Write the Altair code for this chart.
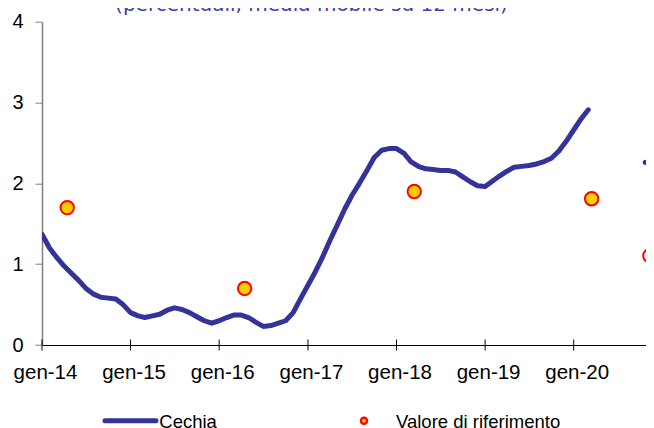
import altair as alt
import pandas as pd

# ---- data ----
title_text = "(percentuali, media mobile su 12 mesi)"
legend_labels = ["Cechia", "Valore di riferimento"]
tick_years = [2014, 2015, 2016, 2017, 2018, 2019, 2020]

cechia_start = "2014-01-01"
cechia_values = [
    1.37, 1.20, 1.09, 0.98, 0.89, 0.80, 0.70, 0.63, 0.59, 0.58, 0.57, 0.50,
    0.40, 0.36, 0.34, 0.36, 0.38, 0.43, 0.46, 0.44, 0.40, 0.35, 0.30, 0.27,
    0.30, 0.34, 0.37, 0.37, 0.34, 0.28, 0.23, 0.24, 0.27, 0.30, 0.40, 0.57,
    0.74, 0.91, 1.08, 1.29, 1.48, 1.68, 1.85, 2.00, 2.16, 2.32, 2.41, 2.43,
    2.43, 2.37, 2.27, 2.21, 2.18, 2.17, 2.16, 2.16, 2.14, 2.08, 2.02, 1.97,
    1.96, 2.03, 2.09, 2.15, 2.20, 2.21, 2.22, 2.24, 2.27, 2.31, 2.40, 2.52,
    2.66, 2.80, 2.91,
]
# start of the next (cropped) segment at the right edge
next_dates = ["2020-10-22", "2020-12-01"]
next_values = [2.26, 2.22]

ref_dates = ["2014-04-15", "2016-04-15", "2018-03-15", "2020-03-15"]
ref_values = [1.70, 0.70, 1.90, 1.81]
ref_edge_dates = ["2020-11-10"]
ref_edge_values = [1.105]

# ---- tables ----
line_dates = pd.date_range(cechia_start, periods=len(cechia_values), freq="MS").strftime("%Y-%m-%d")
df_line = pd.DataFrame({"date": line_dates, "value": cechia_values})
df_next = pd.DataFrame({"date": next_dates, "value": next_values})
df_ref = pd.DataFrame({"date": ref_dates, "value": ref_values})
df_edge = pd.DataFrame({"date": ref_edge_dates, "value": ref_edge_values})
df_ticks = pd.DataFrame({"date": [f"{y}-01-01" for y in tick_years]})

PLOT_W = 604
PLOT_H = 323.3
FONT = "Liberation Sans"
BLUE = "#333399"

xscale = alt.Scale(
    type="utc",
    domain=[alt.DateTime(year=2014, month=1, date=1, utc=True),
            alt.DateTime(year=2020, month=10, date=25, utc=True)],
)
yscale = alt.Scale(domain=[0, 4], nice=False)

xaxis = alt.Axis(
    values=[alt.DateTime(year=y, month=1, date=1, utc=True) for y in tick_years],
    labelExpr="'gen-' + utcFormat(datum.value, '%y')",
    ticks=False, labelPadding=17, labelFontSize=20.5, labelFont=FONT,
    labelColor="black", domainColor="black", domainWidth=1, grid=False,
    title=None, labelOffset=3, labelFlush=False, labelOverlap=False,
)
yaxis = alt.Axis(
    values=[0, 1, 2, 3, 4], format="d", tickSize=7, labelPadding=12,
    labelFontSize=20, labelFont=FONT, labelColor="black",
    domainColor="#808080", domainWidth=1.5, tickColor="#808080",
    grid=False, title=None,
)

X = alt.X("date:T", scale=xscale, axis=xaxis)
Y = alt.Y("value:Q", scale=yscale, axis=yaxis)

line = alt.Chart(df_line).mark_line(
    color=BLUE, strokeWidth=5, strokeJoin="round", strokeCap="round", clip=True
).encode(x=X, y=Y)

line_next = alt.Chart(df_next).mark_line(
    color=BLUE, strokeWidth=5, strokeJoin="round", strokeCap="round", clip=True
).encode(x=alt.X("date:T", scale=xscale), y=alt.Y("value:Q", scale=yscale))

xticks = alt.Chart(df_ticks).mark_rule(color="black", strokeWidth=1).encode(
    x=alt.X("date:T", scale=xscale),
    y=alt.value(PLOT_H - 5.5), y2=alt.value(PLOT_H + 5.5),
)

refs = alt.Chart(df_ref).mark_point(
    shape="circle", filled=True, size=180, fill="#FFCC00", stroke="#FF0000",
    strokeWidth=2, opacity=1, clip=True,
).encode(x=alt.X("date:T", scale=xscale), y=alt.Y("value:Q", scale=yscale))

refs_edge = alt.Chart(df_edge).mark_point(
    shape="circle", filled=True, size=180, fill="white", stroke="#FF0000",
    strokeWidth=2, opacity=1, clip=True,
).encode(x=alt.X("date:T", scale=xscale), y=alt.Y("value:Q", scale=yscale))

title = alt.Chart(pd.DataFrame({"t": [title_text]})).mark_text(
    font="DejaVu Sans", fontSize=20, color="#4040A0", align="center",
    baseline="alphabetic",
).encode(text="t:N", x=alt.value(269.5), y=alt.value(-11.2))

leg_df1 = pd.DataFrame({"t": [legend_labels[0]]})
leg_df2 = pd.DataFrame({"t": [legend_labels[1]]})

leg_line = alt.Chart(leg_df1).mark_rule(
    color=BLUE, strokeWidth=5, strokeCap="round"
).encode(x=alt.value(63), x2=alt.value(114), y=alt.value(399))
leg_text1 = alt.Chart(leg_df1).mark_text(
    font=FONT, fontSize=18.5, color="black", align="left", baseline="alphabetic"
).encode(text="t:N", x=alt.value(117.3), y=alt.value(406.3))
leg_dot = alt.Chart(leg_df2).mark_point(
    shape="circle", filled=True, size=40, fill="#FFCC00", stroke="#FF0000",
    strokeWidth=2.2, opacity=1,
).encode(x=alt.value(322), y=alt.value(399))
leg_text2 = alt.Chart(leg_df2).mark_text(
    font=FONT, fontSize=18.5, color="black", align="left", baseline="alphabetic"
).encode(text="t:N", x=alt.value(354), y=alt.value(406.3))

chart = alt.layer(
    line, line_next, xticks, refs, refs_edge, title,
    leg_line, leg_text1, leg_dot, leg_text2,
).properties(
    width=PLOT_W, height=PLOT_H,
    autosize=alt.AutoSizeParams(type="none"),
    padding={"left": 34, "top": 13.7, "right": 0, "bottom": 83},
    background="white",
).configure_view(stroke=None)

chart.save("out.html", embed_options={"renderer": "svg", "actions": False})
